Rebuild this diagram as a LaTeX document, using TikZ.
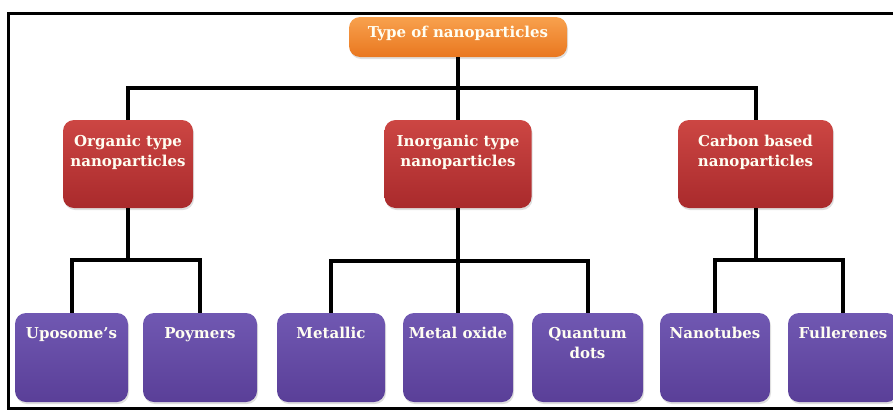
\documentclass[tikz,border=0pt]{standalone}
\usepackage{fontspec}
\setmainfont{DejaVu Serif}
\usetikzlibrary{positioning, shadows}

\definecolor{orangetop}{HTML}{F8A14E}
\definecolor{orangebot}{HTML}{E9771F}
\definecolor{redtop}{HTML}{CC4643}
\definecolor{redbot}{HTML}{A92A2C}
\definecolor{purptop}{HTML}{7058B2}
\definecolor{purpbot}{HTML}{5A3F98}

\tikzset{
    box/.style={rounded corners=11pt, align=center, text=white!95!yellow,
        font=\bfseries\fontsize{15}{20}\selectfont, inner xsep=2pt, inner ysep=4pt,
        drop shadow={opacity=0.25, shadow xshift=1pt, shadow yshift=-2pt}},
    rootbox/.style={box, top color=orangetop, bottom color=orangebot,
        minimum width=218pt, text height=16pt, text depth=16pt},
    kindbox/.style={box, top color=redtop, bottom color=redbot,
        text height=42pt, text depth=38pt},
    leafbox/.style={box, top color=purptop, bottom color=purpbot,
        text height=21pt, text depth=60pt},
    twoline/.style={text height=41pt, text depth=40pt},
    link/.style={line width=4pt, black}
}

\begin{document}
\begin{tikzpicture}[x=1pt, y=-1pt]
    \useasboundingbox (0,0) rectangle (893,410);
    % outer frame (right side falls outside the picture)
    \draw[line width=3pt] (8,13) rectangle (900,408);

    % root
    \node[rootbox] (root) at (458,37) {Type of nanoparticles};

    % second level
    \node[kindbox, minimum width=130pt] (org) at (128,164) {Organic type\\nanoparticles};
    \node[kindbox, minimum width=147pt] (inorg) at (458,164) {Inorganic type\\nanoparticles};
    \node[kindbox, minimum width=155pt] (carb) at (755.5,164) {Carbon based\\nanoparticles};

    % third level
    \foreach \name/\x/\w/\txt in {upo/71.5/113/{Uposome's}, poy/200/114/Poymers,
        met/331/108/Metallic, oxi/458/110/Metal oxide,
        tub/715/110/Nanotubes, ful/843/110/Fullerenes}
        \node[leafbox, minimum width=\w pt] (\name) at (\x,357.5) {\txt};
    \node[leafbox, twoline, minimum width=111pt] (qua) at (587.5,357.5) {Quantum\\dots};

    % branch points
    \coordinate (bar1) at (root.south |- 0,88);
    \coordinate (bar2) at (org.south |- 0,260);
    \coordinate (bar3) at (inorg.south |- 0,261);
    \coordinate (bar4) at (carb.south |- 0,260);

    % connectors
    \draw[link] (root.south) -- (bar1);
    \draw[link] (org.north) |- (bar1) -| (carb.north);
    \draw[link] (bar1) -- (inorg.north);

    \draw[link] (org.south) -- (bar2);
    \draw[link] (upo.north) |- (bar2) -| (poy.north);

    \draw[link] (inorg.south) -- (bar3);
    \draw[link] (met.north) |- (bar3) -| (qua.north);
    \draw[link] (bar3) -- (oxi.north);

    \draw[link] (carb.south) -- (bar4);
    \draw[link] (tub.north) |- (bar4) -| (ful.north);
\end{tikzpicture}
\end{document}
